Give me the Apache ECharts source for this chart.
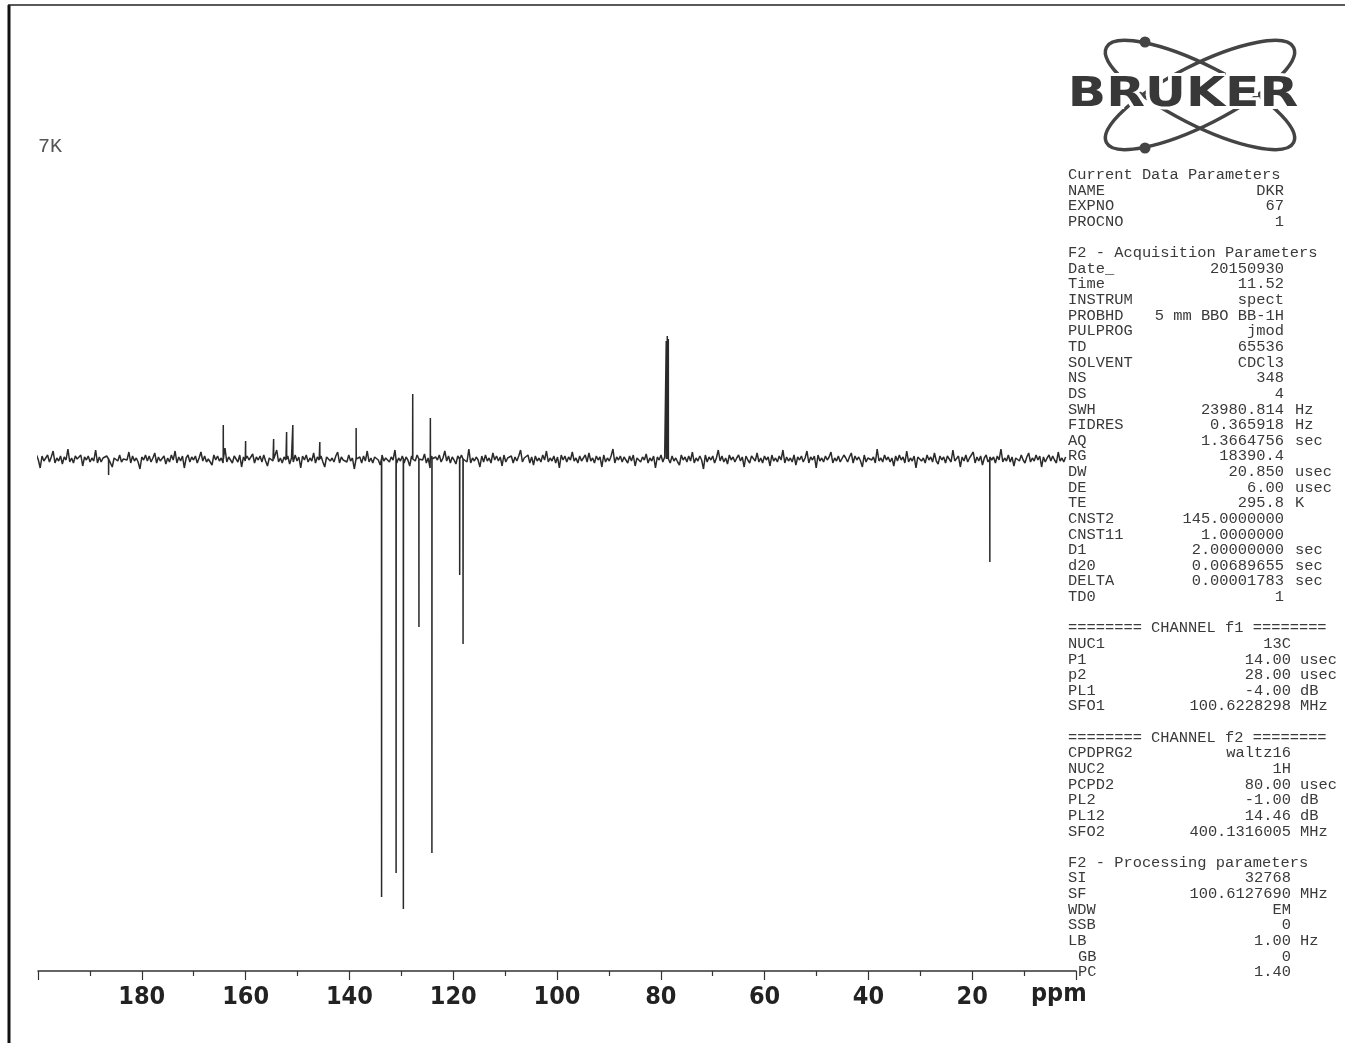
<!DOCTYPE html>
<html><head><meta charset="utf-8">
<script src="https://cdn.jsdelivr.net/npm/echarts@6/dist/echarts.min.js"></script>
<style>html,body{margin:0;padding:0;background:#fff}#c{width:1345px;height:1043px}</style>
</head><body><div id="c"></div>
<script>
// ---------------- data ----------------
const sampleName = '7K';
const axisUnit = 'ppm';
const noiseStartPpm = 201;
const noiseEndPpm = 2;
// baseline noise, read as pixel-scale intensity around zero (hand estimated)
const noise = [
 2,-3,4,-1,-9,3,-2,1,4,-3,2,8,-4,1,-2,3,-5,2,-1,10,
 -3,1,-4,3,0,-2,4,-7,2,-1,3,-3,1,-2,9,-4,2,-3,1,-1,
 3,-4,2,-8,1,3,-2,4,-3,0,2,-1,7,-4,3,-2,1,-3,-10,2,
 -1,4,-2,3,-3,1,6,-4,2,-2,0,3,-5,1,-3,4,-1,8,-4,2,
 -2,3,-9,1,4,-3,2,-1,3,-4,1,7,-2,3,-3,0,2,-6,4,-1,
 3,-2,1,-4,11,-3,2,-1,-4,3,1,-3,4,-8,2,-2,3,-1,0,5,
 -4,2,-1,3,-3,4,-2,-7,1,3,-2,2,9,-3,1,-4,2,-1,3,-5,
 1,-3,4,-2,2,-9,3,-1,4,-3,1,-2,6,-4,2,-1,3,-3,-8,2,
 4,-2,1,-3,3,7,-4,2,-1,0,-3,4,-2,1,-10,3,-1,2,-4,3,
 -2,8,-3,1,-4,2,3,-1,-6,4,-2,1,3,-3,2,-1,9,-4,1,-2,
 3,-4,2,-1,-7,3,1,-2,4,-3,2,-1,5,-4,1,-9,3,-2,2,-1,
 4,-3,1,8,-2,3,-4,2,-1,-5,3,-2,4,-1,2,-3,10,-4,1,-2,
 2,-1,-8,3,-3,4,-2,1,-4,6,-1,3,-2,2,-7,4,-3,1,-1,3,
 -4,2,-2,3,9,-3,1,-1,4,-4,2,-6,3,-2,1,-3,4,-1,8,-3,
 1,-2,3,-4,2,-9,4,-1,3,-3,2,-1,7,-2,1,-4,3,-2,-1,4,
 -3,6,-2,1,-4,3,-1,2,-8,4,-3,1,-2,3,10,-4,2,-1,3,-3,
 2,-1,-4,3,-2,4,-7,1,3,-3,2,-1,5,-4,1,-2,3,-9,2,-1,
 4,-3,2,-1,8,-4,3,-2,1,-3,-6,4,-1,2,-3,3,-2,7,-4,1,
 -2,3,-1,-10,4,-3,2,-1,3,-4,1,9,-2,3,-3,1,-5,4,-1,2,
 -3,1,4,-2,2,-8,3,-1,-4,3,2,-2,6,-3,1,-4,3,-1,2,-7,
 4,-2,1,-3,3,-1,9,-4,2,-2,1,-3,4,-6,2,-1,3,-3,1,8,
 -4,2,-1,3,-9,4,-2,1,-3,3,-1,2,7,-4,1,-2,3,-3,-5,4,
 1,-3,2,6,-4,3,-1,2,-2,-8,4,-3,1,3,-1,2,-4,10,-2,1,
 -3,4,-1,2,-3,1,-7,3,-2,4,-1,2,-4,8,-3,1,-2,3,-9,2,
 3,-2,1,-4,4,-1,2,-3,6,-2,-5,3,-1,2,-4,3,1,-3,9,-2,
 -1,3,-8,2,-2,4,-3,1,-1,7,-4,2,-2,3,-6,1,4,-3,2,-1,
 2,-4,3,-1,10,-3,1,-2,4,-3,2,-7,1,3,-2,4,-1,-4,2,6,
 -3,1,-2,4,-1,3,-8,2,-3,1,4,-2,3,-1,-4,7,-2,1,-3,2
];
// positive peaks: [ppm, intensity]
const positivePeaks = [
 [164.3, 34], [160.0, 18], [154.6, 20], [152.1, 27], [150.9, 34],
 [145.7, 17], [138.7, 31], [127.8, 65], [124.4, 41],
 [78.95, 118], [78.75, 123], [78.55, 120]
];
// negative peaks: [ppm, intensity]
const negativePeaks = [
 [186.4, -16], [133.8, -438], [131.0, -414], [129.6, -450], [126.6, -168],
 [124.1, -394], [118.75, -116], [118.1, -185], [16.6, -103]
];
const paramRows = [
 ['Current Data Parameters'],
 ['NAME', 'DKR'],
 ['EXPNO', '67'],
 ['PROCNO', '1'],
 [],
 ['F2 - Acquisition Parameters'],
 ['Date_', '20150930'],
 ['Time', '11.52'],
 ['INSTRUM', 'spect'],
 ['PROBHD', '5 mm BBO BB-1H'],
 ['PULPROG', 'jmod'],
 ['TD', '65536'],
 ['SOLVENT', 'CDCl3'],
 ['NS', '348'],
 ['DS', '4'],
 ['SWH', '23980.814', 'Hz'],
 ['FIDRES', '0.365918', 'Hz'],
 ['AQ', '1.3664756', 'sec'],
 ['RG', '18390.4'],
 ['DW', '20.850', 'usec'],
 ['DE', '6.00', 'usec'],
 ['TE', '295.8', 'K'],
 ['CNST2', '145.0000000'],
 ['CNST11', '1.0000000'],
 ['D1', '2.00000000', 'sec'],
 ['d20', '0.00689655', 'sec'],
 ['DELTA', '0.00001783', 'sec'],
 ['TD0', '1'],
 [],
 ['======== CHANNEL f1 ========'],
 ['NUC1', '13C'],
 ['P1', '14.00', 'usec'],
 ['p2', '28.00', 'usec'],
 ['PL1', '-4.00', 'dB'],
 ['SFO1', '100.6228298', 'MHz'],
 [],
 ['======== CHANNEL f2 ========'],
 ['CPDPRG2', 'waltz16'],
 ['NUC2', '1H'],
 ['PCPD2', '80.00', 'usec'],
 ['PL2', '-1.00', 'dB'],
 ['PL12', '14.46', 'dB'],
 ['SFO2', '400.1316005', 'MHz'],
 [],
 ['F2 - Processing parameters'],
 ['SI', '32768'],
 ['SF', '100.6127690', 'MHz'],
 ['WDW', 'EM'],
 ['SSB', '0'],
 ['LB', '1.00', 'Hz'],
 ['GB', '0'],
 ['PC', '1.40']
];

// ---------------- build ----------------
const step = (noiseStartPpm - noiseEndPpm) / (noise.length - 1);
let pts = noise.map((v, i) => [noiseStartPpm - i * step, v]);
positivePeaks.concat(negativePeaks).forEach(([p, h]) => {
  pts.push([p + 0.02, 0], [p, h], [p - 0.02, 0]);
});
pts.sort((a, b) => b[0] - a[0]);

const monoFont = '15.4px "Liberation Mono", "DejaVu Sans Mono", monospace';
const txtCol = '#3a3a3a';
const graphics = [];
function T(x, y, text, font, fill, align, valign, extra) {
  return Object.assign({
    type: 'text', x: x, y: y, silent: true,
    style: { text: text, font: font, fill: fill, align: align, textAlign: align,
             verticalAlign: valign, textVerticalAlign: valign }
  }, extra || {});
}
paramRows.forEach((r, i) => {
  if (!r.length) return;
  const y = 175 + i * 15.63;
  const lower = i >= 29;
  const lx = (r[0] === 'GB' || r[0] === 'PC') ? 1078 : 1068;
  graphics.push(T(lx, y, r[0], monoFont, txtCol, 'left', 'middle'));
  if (r[1] !== undefined) graphics.push(T(lower ? 1291 : 1284, y, r[1], monoFont, txtCol, 'right', 'middle'));
  if (r[2] !== undefined) graphics.push(T(lower ? 1300 : 1295, y, r[2], monoFont, txtCol, 'left', 'middle'));
});
// page border
graphics.push({ type: 'line', silent: true, shape: { x1: 9, y1: 5, x2: 9, y2: 1043 }, style: { stroke: '#111', lineWidth: 3 } });
graphics.push({ type: 'line', silent: true, shape: { x1: 8, y1: 5, x2: 1345, y2: 5 }, style: { stroke: '#222', lineWidth: 1.5 } });
// sample name
graphics.push(T(38, 147, sampleName, '20px "Liberation Mono", monospace', '#555', 'left', 'middle'));
// unit label
graphics.push(T(1031, 994, axisUnit, 'bold 25px "Liberation Sans Narrow", "DejaVu Sans Condensed", sans-serif', '#222', 'left', 'middle'));
// logo
[0.47, -0.47].forEach(rot => graphics.push({
  type: 'ellipse', silent: true, x: 1200, y: 95, rotation: rot,
  shape: { cx: 0, cy: 0, rx: 105, ry: 30 },
  style: { fill: 'none', stroke: '#444', lineWidth: 3.5 }
}));
graphics.push({ type: 'circle', silent: true, shape: { cx: 1145, cy: 42, r: 5.5 }, style: { fill: '#444' } });
graphics.push({ type: 'circle', silent: true, shape: { cx: 1145, cy: 148, r: 5.5 }, style: { fill: '#444' } });
const logoHalo = T(1183, 96, 'BRUKER', 'bold 40px "DejaVu Sans", sans-serif', '#fff', 'center', 'middle',
  { scaleX: 1.26, originX: 0, originY: 0 });
logoHalo.style.stroke = '#fff';
logoHalo.style.lineWidth = 6;
graphics.push(logoHalo);
graphics.push(T(1183, 96, 'BRUKER', 'bold 40px "DejaVu Sans", sans-serif', '#383838', 'center', 'middle',
  { scaleX: 1.26, originX: 0, originY: 0 }));

const chart = echarts.init(document.getElementById('c'), null, { renderer: 'canvas' });
chart.setOption({
  animation: false,
  backgroundColor: '#fff',
  grid: { left: 38, right: 269, top: 280, bottom: 72, containLabel: false },
  xAxis: {
    type: 'value', min: 0, max: 200, interval: 20, inverse: true,
    axisLine: { show: true, onZero: false, lineStyle: { color: '#333', width: 1.5 } },
    axisTick: { show: true, length: 9, lineStyle: { color: '#333', width: 1.2 } },
    minorTick: { show: true, splitNumber: 2, length: 5, lineStyle: { color: '#333', width: 1.2 } },
    axisLabel: {
      margin: 14, fontSize: 25, fontWeight: 'bold', color: '#222',
      fontFamily: '"Liberation Sans Narrow", "DejaVu Sans Condensed", sans-serif',
      formatter: v => (v === 0 || v === 200) ? '' : String(v)
    },
    splitLine: { show: false }, minorSplitLine: { show: false }
  },
  yAxis: { type: 'value', min: -512, max: 179, show: false, splitLine: { show: false } },
  series: [{
    type: 'line', data: pts, showSymbol: false, symbol: 'none', silent: true,
    sampling: null, clip: false, lineStyle: { color: '#2a2a2a', width: 1.5 }, z: 3
  }],
  graphic: { elements: graphics }
});
</script></body></html>
